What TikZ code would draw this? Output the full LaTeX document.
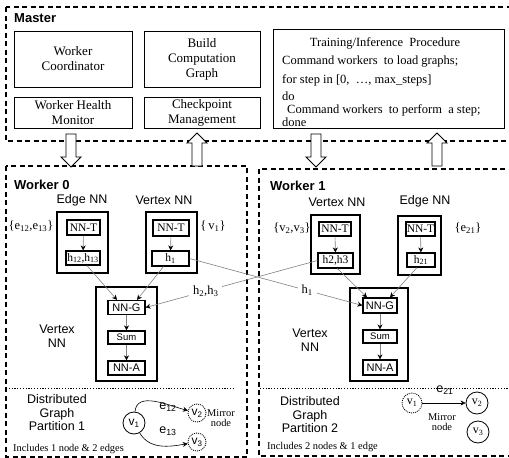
\documentclass[tikz,border=0pt]{standalone}
\usepackage{fontspec}
\setmainfont{Liberation Serif}
\setsansfont{Liberation Sans}
\usetikzlibrary{arrows.meta}

\tikzset{
  group/.style={draw, line width=1.1pt, dash pattern=on 5pt off 3.5pt},
  part/.style={draw, line width=0.9pt, dash pattern=on 1.2pt off 1.6pt},
  mbox/.style={draw, line width=0.9pt, align=center, inner sep=0pt, font=\fontsize{13}{15}\selectfont},
  nnbox/.style={draw, line width=1.5pt, inner sep=0pt},
  ibox/.style={draw, line width=1.2pt, inner sep=0pt, font=\fontsize{11.5}{12}\selectfont},
  sbox/.style={ibox, font=\fontsize{11}{12}\sffamily},
  lbl/.style={align=center, inner sep=0pt, font=\fontsize{12.5}{13.5}\sffamily},
  title/.style={anchor=west, inner sep=0pt, font=\fontsize{13}{14}\sffamily\bfseries},
  ser/.style={inner sep=0pt, text=black, font=\fontsize{12.5}{13}\selectfont},
  proc/.style={anchor=west, inner sep=0pt, font=\fontsize{12.5}{15}\selectfont},
  note/.style={align=center, inner sep=0pt, font=\fontsize{10.4}{10}\selectfont},
  flow/.style={-{Stealth[length=5pt,width=5pt,black]}, gray, line width=0.6pt},
  link/.style={-{Stealth[length=5pt,width=5pt]}, black, line width=0.6pt},
  vtx/.style={circle, draw, line width=0.8pt, minimum size=22pt, inner sep=0pt, font=\fontsize{12}{12}\sffamily},
  mirror/.style={vtx, dash pattern=on 1pt off 1pt, minimum size=18pt},
  hollow/.style={draw, line width=0.9pt, fill=white}
}

\begin{document}
\begin{tikzpicture}[x=1pt, y=-1pt]
    \clip (0,0) rectangle (509,458);

    % Master
    \draw[group] (6,7) rectangle (520,141);
    \node[title] (master) at (14,18) {Master};
    \node[mbox, minimum width=118, minimum height=56] (coord) at (73,59) {Worker\\Coordinator};
    \node[mbox, minimum width=118, minimum height=31] (health) at (73,112.5) {Worker Health\\Monitor};
    \node[mbox, minimum width=116, minimum height=56] (build) at (202,59) {Build\\Computation\\Graph};
    \node[mbox, minimum width=116, minimum height=31] (ckpt) at (202,112.5) {Checkpoint\\Management};
    \node[mbox, minimum width=231, minimum height=99] (procbox) at (388.5,78.5) {};
    \node[proc, anchor=center] (tr1) at (385,43) {Training/Inference\ \ Procedure};
    \node[proc] (tr2) at (282,62) {Command workers\ \ to load graphs;};
    \node[proc] (tr3) at (282,80) {for step in [0,\ \ …, max\_steps]};
    \node[proc] (tr4) at (282,96) {do};
    \node[proc] (tr5) at (287,110) {Command workers\ \ to perform\ \ a step;};
    \node[proc] (tr6) at (282,122) {done};

    % Worker 0
    \draw[group] (6,166) rectangle (247,457);
    \node[title] (w0) at (14,185) {Worker 0};
    \node[lbl] (edge0) at (82,200) {Edge NN};
    \node[lbl] (vert0) at (164,200) {Vertex NN};
    \node[nnbox, minimum width=51, minimum height=61] (ebox0) at (82.5,242.5) {};
    \node[ibox, minimum width=33, minimum height=15] (et0) at (83.5,227.5) {NN-T};
    \node[ibox, minimum width=34, minimum height=14] (eh0) at (83,258) {h\textsubscript{12},h\textsubscript{13}};
    \node[nnbox, minimum width=51, minimum height=61] (vbox0) at (171.5,242.5) {};
    \node[ibox, minimum width=36, minimum height=16] (vt0) at (171,228) {NN-T};
    \node[ibox, minimum width=37, minimum height=15] (vh0) at (170.5,258.5) {h\textsubscript{1}};
    \node[ser] (eset0) at (31,226) {\{e\textsubscript{12},e\textsubscript{13}\}};
    \node[ser] (vset0) at (213,226) {\{\,v\textsubscript{1}\}};
    \node[nnbox, minimum width=61, minimum height=94] (nn0) at (126.5,334) {};
    \node[sbox, minimum width=37, minimum height=14] (g0) at (126.5,307.5) {NN-G};
    \node[sbox, minimum width=37, minimum height=13, font=\fontsize{9.5}{10}\sffamily] (s0) at (126.5,337.5) {Sum};
    \node[sbox, minimum width=37, minimum height=14] (a0) at (126.5,368) {NN-A};
    \node[lbl] (vl0) at (57,336) {Vertex\\NN};

    % Worker 1
    \draw[group] (259,169) rectangle (520,456);
    \node[title] (w1) at (270,186) {Worker 1};
    \node[lbl] (vert1) at (337,202) {Vertex NN};
    \node[lbl] (edge1) at (425,201) {Edge NN};
    \node[nnbox, minimum width=49, minimum height=59] (vbox1) at (335.5,244.5) {};
    \node[ibox, minimum width=32, minimum height=14] (vt1) at (335,229) {NN-T};
    \node[ibox, minimum width=35, minimum height=15] (vh1) at (335.5,260.5) {h2,h3};
    \node[nnbox, minimum width=43, minimum height=59] (ebox1) at (419.5,245.5) {};
    \node[ibox, minimum width=29, minimum height=14] (et1) at (420.5,229) {NN-T};
    \node[ibox, minimum width=28, minimum height=14] (eh1) at (421,260) {h\textsubscript{21}};
    \node[ser] (vset1) at (292,228) {\{v\textsubscript{2},v\textsubscript{3}\}};
    \node[ser] (eset1) at (468,228) {\{e\textsubscript{21}\}};
    \node[nnbox, minimum width=58, minimum height=93] (nn1) at (379,334.5) {};
    \node[sbox, minimum width=34, minimum height=15] (g1) at (380,305.5) {NN-G};
    \node[sbox, minimum width=34, minimum height=13, font=\fontsize{9.5}{10}\sffamily] (s1) at (380,336.5) {Sum};
    \node[sbox, minimum width=34, minimum height=15] (a1) at (380,367.5) {NN-A};
    \node[lbl] (vl1) at (310,340) {Vertex\\NN};

    % Connectors inside the workers
    \foreach \a/\b in {et0/eh0,vt0/vh0,g0/s0,s0/a0,vt1/vh1,et1/eh1,g1/s1,s1/a1}
        \draw[flow] (\a) -- (\b);
    \draw[flow] ([xshift=4pt]eh0.south) -- ([xshift=-9.5pt]g0.north);
    \draw[flow] ([xshift=-7pt]vh0.south) -- ([xshift=10.5pt]g0.north);
    \draw[flow] ([xshift=2pt]vh1.south) -- ([xshift=-13pt]g1.north);
    \draw[flow] ([xshift=-4pt]eh1.south) -- ([xshift=10pt]g1.north);

    % Crossing messages
    \draw[flow] (vh0.east) -- node[pos=0.68, fill=white, ser, inner sep=4pt] {h\textsubscript{1}} (g1.west);
    \draw[flow] (vh1.west) -- node[pos=0.65, fill=white, ser, inner sep=4pt] {h\textsubscript{2},h\textsubscript{3}} (g0.east);

    % Graph partitions
    \draw[part] (6,388) -- (233,388);
    \draw[part] (260,388) -- (520,388);
    \node[lbl] (dg0) at (57,413) {Distributed\\Graph\\Partition 1};
    \node[vtx] (p0v1) at (134,423) {v\textsubscript{1}};
    \node[mirror] (p0v2) at (197,413) {v\textsubscript{2}};
    \node[mirror] (p0v3) at (197,442) {v\textsubscript{3}};
    \draw[link] (p0v1) to[out=85, in=165] (p0v2);
    \draw[link] (p0v1) to[out=-60, in=190] (p0v3);
    \node[lbl] (e12) at (168,407) {e\textsubscript{12}};
    \node[lbl] (e13) at (168,431) {e\textsubscript{13}};
    \node[note] (mir0) at (221,418) {Mirror\\node};
    \node[note, anchor=west] (inc0) at (13,449) {Includes 1 node \& 2 edges};

    \node[lbl] (dg1) at (310,415) {Distributed\\Graph\\Partition 2};
    \node[mirror, minimum size=20pt, font=\fontsize{12}{12}\selectfont] (p1v1) at (412,403) {v\textsubscript{1}};
    \node[vtx, font=\fontsize{12}{12}\selectfont] (p1v2) at (477,403) {v\textsubscript{2}};
    \node[vtx, font=\fontsize{12}{12}\selectfont] (p1v3) at (478,432) {v\textsubscript{3}};
    \draw[link] (p1v1) -- (p1v2);
    \node[lbl] (e21) at (445,390) {e\textsubscript{21}};
    \node[note] (mir1) at (442,422) {Mirror\\node};
    \node[note, anchor=west] (inc1) at (267,447) {Includes 2 nodes \& 1 edge};

    % Master <-> worker arrows
    \foreach \x in {71,316}
        \draw[hollow] (\x-5,134) -- (\x-5,157) -- (\x-10,157) -- (\x,167) -- (\x+10,157) -- (\x+5,157) -- (\x+5,134) -- cycle;
    \foreach \x in {197,437}
        \draw[hollow] (\x-5,166) -- (\x-5,143) -- (\x-10,143) -- (\x,133) -- (\x+10,143) -- (\x+5,143) -- (\x+5,166) -- cycle;
\end{tikzpicture}
\end{document}
